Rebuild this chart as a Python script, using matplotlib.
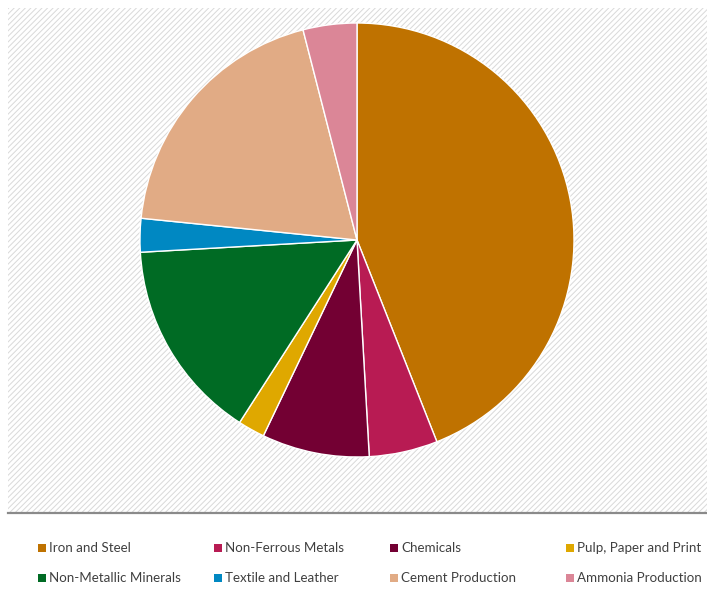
import matplotlib
matplotlib.use("Agg")
import matplotlib.pyplot as plt
from matplotlib.patches import Rectangle
from matplotlib.lines import Line2D

# ── Data ──────────────────────────────────────────────────────
sectors = ["Iron and Steel", "Non-Ferrous Metals", "Chemicals", "Pulp, Paper and Print",
           "Non-Metallic Minerals", "Textile and Leather", "Cement Production", "Ammonia Production"]
shares = [44.0, 5.1, 8.0, 2.0, 15.0, 2.5, 19.4, 4.0]
colors = ["#BF7200", "#B81B53", "#730033", "#DFA800",
          "#006B24", "#0088C2", "#E1AB85", "#DB8697"]

W, H = 707, 603
plt.rcParams["hatch.linewidth"] = 0.7

fig = plt.figure(figsize=(W / 100, H / 100), dpi=100)

# ── Hatched plot area ─────────────────────────────────────────
bg = fig.add_axes([8 / W, (H - 513) / H, (W - 8) / W, (513 - 8) / H])
bg.add_patch(Rectangle((0, 0), 1, 1, facecolor="white", edgecolor="#d9d9d9", lw=0,
                       hatch="//////", transform=bg.transAxes))
bg.axis("off")
fig.add_artist(Line2D([8 / W, 1], [(H - 513) / H] * 2, color="#8a8a8a", lw=1.6,
                      transform=fig.transFigure))

# ── Pie ───────────────────────────────────────────────────────
cx, cy, r = 357, 240, 217
ax = fig.add_axes([(cx - r) / W, (H - cy - r) / H, 2 * r / W, 2 * r / H])
ax.pie(shares, colors=colors, startangle=90, counterclock=False,
       wedgeprops=dict(edgecolor="white", linewidth=1))
ax.set_xlim(-1, 1)
ax.set_ylim(-1, 1)
ax.axis("off")

# ── Legend ────────────────────────────────────────────────────
col_x = [38, 214, 390, 566]
row_y = [548, 578]
for i, (name, c) in enumerate(zip(sectors, colors)):
    x = col_x[i % 4]
    y = row_y[i // 4]
    fig.add_artist(Rectangle((x / W, (H - y - 4) / H), 8 / W, 8 / H,
                             facecolor=c, edgecolor="none", transform=fig.transFigure))
    fig.text((x + 11) / W, (H - y) / H, name, fontsize=9.6, color="#404040",
             va="center", ha="left", family=["Lato", "DejaVu Sans"])

plt.savefig("out.png", dpi=100)
